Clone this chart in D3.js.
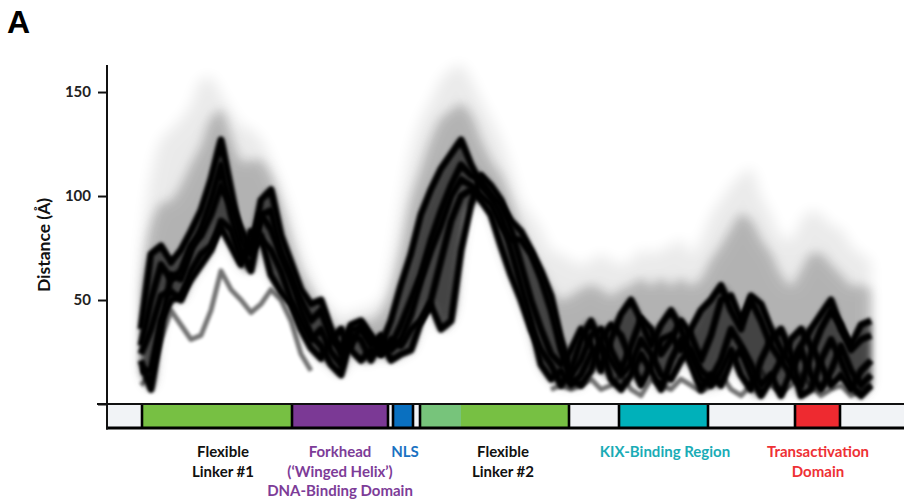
<!DOCTYPE html>
<html><head><meta charset="utf-8">
<script src="https://cdn.jsdelivr.net/npm/d3@7"></script>
<style>body{margin:0;background:#fff}svg{display:block}</style>
</head><body>
<svg id="c" width="904" height="499"></svg>
<script>
// residue positions sampled along the sequence
const residues = [17,22,27,32,37,42,47,52,57,62,67,72,77,82,87,92,97,102,107,112,117,122,127,132,137,142,147,152,157,162,167,172,177,182,187,192,197,202,207,212,217,222,227,232,237,242,247,252,257,262,267,272,277,282,287,292,297,302,307,312,317,322,327,332,337,342,347,352,357,362,367,372,377,382];

// dominant (dense) distance traces, Å
const trace1 = [36,72,76,68,74,83,93,108,127,103,79,72,98,103,81,68,55,48,50,36,24,28,38,31,28,40,57,72,91,103,113,120,127,115,105,100,91,74,57,40,19,12,16,9,14,24,28,21,14,19,31,24,14,12,21,26,16,12,21,36,28,19,9,14,4,16,26,14,7,16,28,16,9,14];
const trace2 = [24,36,52,54,50,64,72,76,85,76,67,83,81,62,54,48,36,27,22,31,36,26,21,26,24,28,38,50,62,79,93,105,115,110,108,100,96,88,83,74,64,52,31,14,21,33,36,26,16,28,41,36,24,31,40,33,21,33,50,52,40,50,40,28,21,14,9,24,36,45,38,26,31,33];
const trace3 = [21,7,36,62,60,74,84,98,115,91,74,64,91,93,72,62,45,33,28,19,14,33,31,21,31,21,24,26,40,50,69,88,100,103,98,91,76,62,50,36,26,19,9,16,31,40,28,12,7,14,24,16,7,21,31,19,7,14,9,21,26,14,4,12,21,31,36,28,19,9,14,7,16,21];
const trace4 = [28,50,67,60,64,76,81,91,105,96,84,74,79,74,64,50,40,31,36,25,19,38,40,33,24,31,28,36,40,48,36,40,74,96,110,105,98,84,67,50,36,24,19,26,36,28,16,31,43,50,40,28,38,45,36,24,12,9,16,26,14,7,21,31,36,24,4,7,21,31,21,9,4,9];
const trace5 = [16,16,40,50,52,60,67,74,88,84,69,76,91,84,72,60,50,40,45,31,27,36,36,28,33,26,31,43,60,74,86,100,108,105,100,96,86,79,79,72,60,45,26,12,9,16,31,38,33,21,9,19,31,33,26,36,45,50,57,45,36,52,48,36,26,19,28,36,43,50,36,28,38,40];
// fainter secondary trace (grey)
const traceGrey = [9,14,31,45,38,31,33,45,64,55,50,44,48,55,50,40,24,16,null,null,null,null,null,null,null,null,null,null,null,null,null,null,null,null,null,null,null,null,null,null,null,7,9,7,9,12,7,9,14,7,4,12,9,7,12,9,6,9,14,7,4,9,16,9,6,9,14,9,4,7,9,4,7,9];

// upper extents of the sparse conformational ensemble, Å
const hazeTop = [74,110,127,132,137,144,156,157,149,141,134,132,127,117,105,91,74,62,52,47,42,44,45,47,50,69,98,122,137,146,156,161,163,156,146,137,127,113,98,91,84,74,72,69,67,69,72,69,67,69,74,72,74,76,79,72,79,91,98,105,110,113,100,91,81,79,88,93,91,86,84,76,72,69];
const hazeMid = [55,86,96,98,105,115,124,137,141,129,117,117,117,110,96,79,64,55,46,40,34,38,40,40,44,55,74,98,113,127,137,141,144,139,127,117,110,98,84,72,64,55,50,52,55,57,55,52,55,57,60,57,60,57,60,57,60,69,76,84,91,88,79,72,62,57,64,72,72,67,62,57,57,55];

const yTicks = [0,50,100,150];

// domain map (residue ranges)
const domainKeys  = ["nterm","linker1","forkhead","gapA","nls","gapB","linker2a","linker2b","gapC","kix","gapD","tad","cterm"];
const domainStart = [0,17.5,92.5,140.5,143,153,156.5,177,231,256,300.5,344,366.5];
const domainEnd   = [17.5,92.5,140.5,143,153,156.5,177,231,256,300.5,344,366.5,398.5];

const labelLines = [["Flexible","Linker #1"],["Forkhead","(‘Winged Helix’)","DNA-Binding Domain"],["NLS"],["Flexible","Linker #2"],["KIX-Binding Region"],["Transactivation","Domain"]];
const labelAt    = [58,116.5,149,198,279,355.5];
const labelKeys  = ["linker","forkhead","nls","linker","kix","tad"];

// ---- styles ----
const fillColor = {nterm:"#f1f3f6",linker1:"#77c043",forkhead:"#7b3995",gapA:"#f1f3f6",nls:"#0a70c0",gapB:"#f1f3f6",linker2a:"#77c47b",linker2b:"#77c043",gapC:"#f1f3f6",kix:"#00b1ba",gapD:"#f1f3f6",tad:"#ee2a30",cterm:"#f1f3f6"};
const textColor = {linker:"#111",forkhead:"#7d3c98",nls:"#1a72c2",kix:"#1aacb6",tad:"#ee3135"};
const FONT = "Lato, 'Open Sans', sans-serif";

const svg = d3.select("#c");
const x = d3.scaleLinear().domain([0,398.5]).range([107,904]);
const y = d3.scaleLinear().domain([0,163]).range([404,65]);

const defs = svg.append("defs");
function blur(id, s){
  defs.append("filter").attr("id",id).attr("filterUnits","userSpaceOnUse")
    .attr("x",0).attr("y",0).attr("width",904).attr("height",499)
    .append("feGaussianBlur").attr("stdDeviation",s);
}
blur("b7",7); blur("b4",4); blur("b3",3); blur("b1",1.5);

const cores = [trace1,trace2,trace3,trace4,trace5];
const idx = d3.range(residues.length);
const low = idx.map(i => d3.min(cores, s => s[i]));
const high = idx.map(i => d3.max(cores, s => s[i]));

const plot = svg.append("g");
const area = (top, bot) => d3.area().x(i=>x(residues[i])).y0(i=>y(bot[i])).y1(i=>y(top[i])).curve(d3.curveCatmullRom);

plot.append("path").attr("d", area(hazeTop, low)(idx)).attr("fill","#000").attr("opacity",0.08).attr("filter","url(#b7)");
plot.append("path").attr("d", area(hazeMid, low)(idx)).attr("fill","#000").attr("opacity",0.12).attr("filter","url(#b7)");
plot.append("path").attr("d", area(hazeMid, low)(idx)).attr("fill","#000").attr("opacity",0.12).attr("filter","url(#b4)");
plot.append("path").attr("d", area(high, low)(idx)).attr("fill","#000").attr("opacity",0.62).attr("filter","url(#b3)");

const line = d3.line().defined(d=>d[1]!=null).x(d=>x(d[0])).y(d=>y(d[1])).curve(d3.curveLinear);
plot.append("path").attr("d", line(residues.map((r,i)=>[r,traceGrey[i]])))
  .attr("fill","none").attr("stroke","#000").attr("stroke-width",5).attr("stroke-linejoin","round").attr("opacity",0.55).attr("filter","url(#b1)");
cores.forEach(s=>{
  plot.append("path").attr("d", line(residues.map((r,i)=>[r,s[i]])))
    .attr("fill","none").attr("stroke","#000").attr("stroke-width",7).attr("stroke-linejoin","round").attr("opacity",1).attr("filter","url(#b1)");
});

// ---- domain bar ----
const bar = svg.append("g");
const barTop = 404, barBot = 428;
domainKeys.forEach((k,i)=>{
  bar.append("rect").attr("x",x(domainStart[i])).attr("y",barTop).attr("width",x(domainEnd[i])-x(domainStart[i])).attr("height",barBot-barTop).attr("fill",fillColor[k]);
});
domainStart.forEach((s,i)=>{
  if (i===0 || domainKeys[i]==="linker2b") return;
  bar.append("line").attr("x1",x(s)).attr("x2",x(s)).attr("y1",barTop).attr("y2",barBot).attr("stroke","#000").attr("stroke-width",2.6);
});
bar.append("line").attr("x1",97).attr("x2",904).attr("y1",barTop).attr("y2",barTop).attr("stroke","#111").attr("stroke-width",2);
bar.append("line").attr("x1",106).attr("x2",904).attr("y1",barBot).attr("y2",barBot).attr("stroke","#000").attr("stroke-width",3);

// ---- y axis ----
const ax = svg.append("g").attr("transform","translate(107,0)")
  .call(d3.axisLeft(y).tickValues(yTicks).tickSize(9).tickPadding(7).tickFormat(d=>d===0?"":d));
ax.select(".domain").remove();
ax.selectAll(".tick line").attr("stroke","#111").attr("stroke-width",2);
ax.selectAll(".tick text").attr("font-family",FONT).attr("font-size",15).attr("font-weight",700).attr("fill","#222");
svg.append("line").attr("x1",107).attr("x2",107).attr("y1",65).attr("y2",429.5).attr("stroke","#111").attr("stroke-width",2);

svg.append("text").attr("transform","translate(50,245) rotate(-90)").attr("text-anchor","middle")
  .attr("font-family",FONT).attr("font-size",17.5).attr("font-weight",700).attr("fill","#111").text("Distance (Å)");

svg.append("text").attr("x",7).attr("y",33).attr("font-family","'Liberation Sans', Arial, sans-serif")
  .attr("font-size",32).attr("font-weight",700).attr("fill","#000").text("A");

// ---- domain labels ----
const baselines = [457,477,496];
labelLines.forEach((lines,i)=>{
  const t = svg.append("text").attr("text-anchor","middle").attr("font-family",FONT).attr("font-size",15).attr("font-weight",700).attr("fill",textColor[labelKeys[i]]);
  lines.forEach((s,j)=> t.append("tspan").attr("x",x(labelAt[i])).attr("y",baselines[j]).text(s));
});
</script>
</body></html>
